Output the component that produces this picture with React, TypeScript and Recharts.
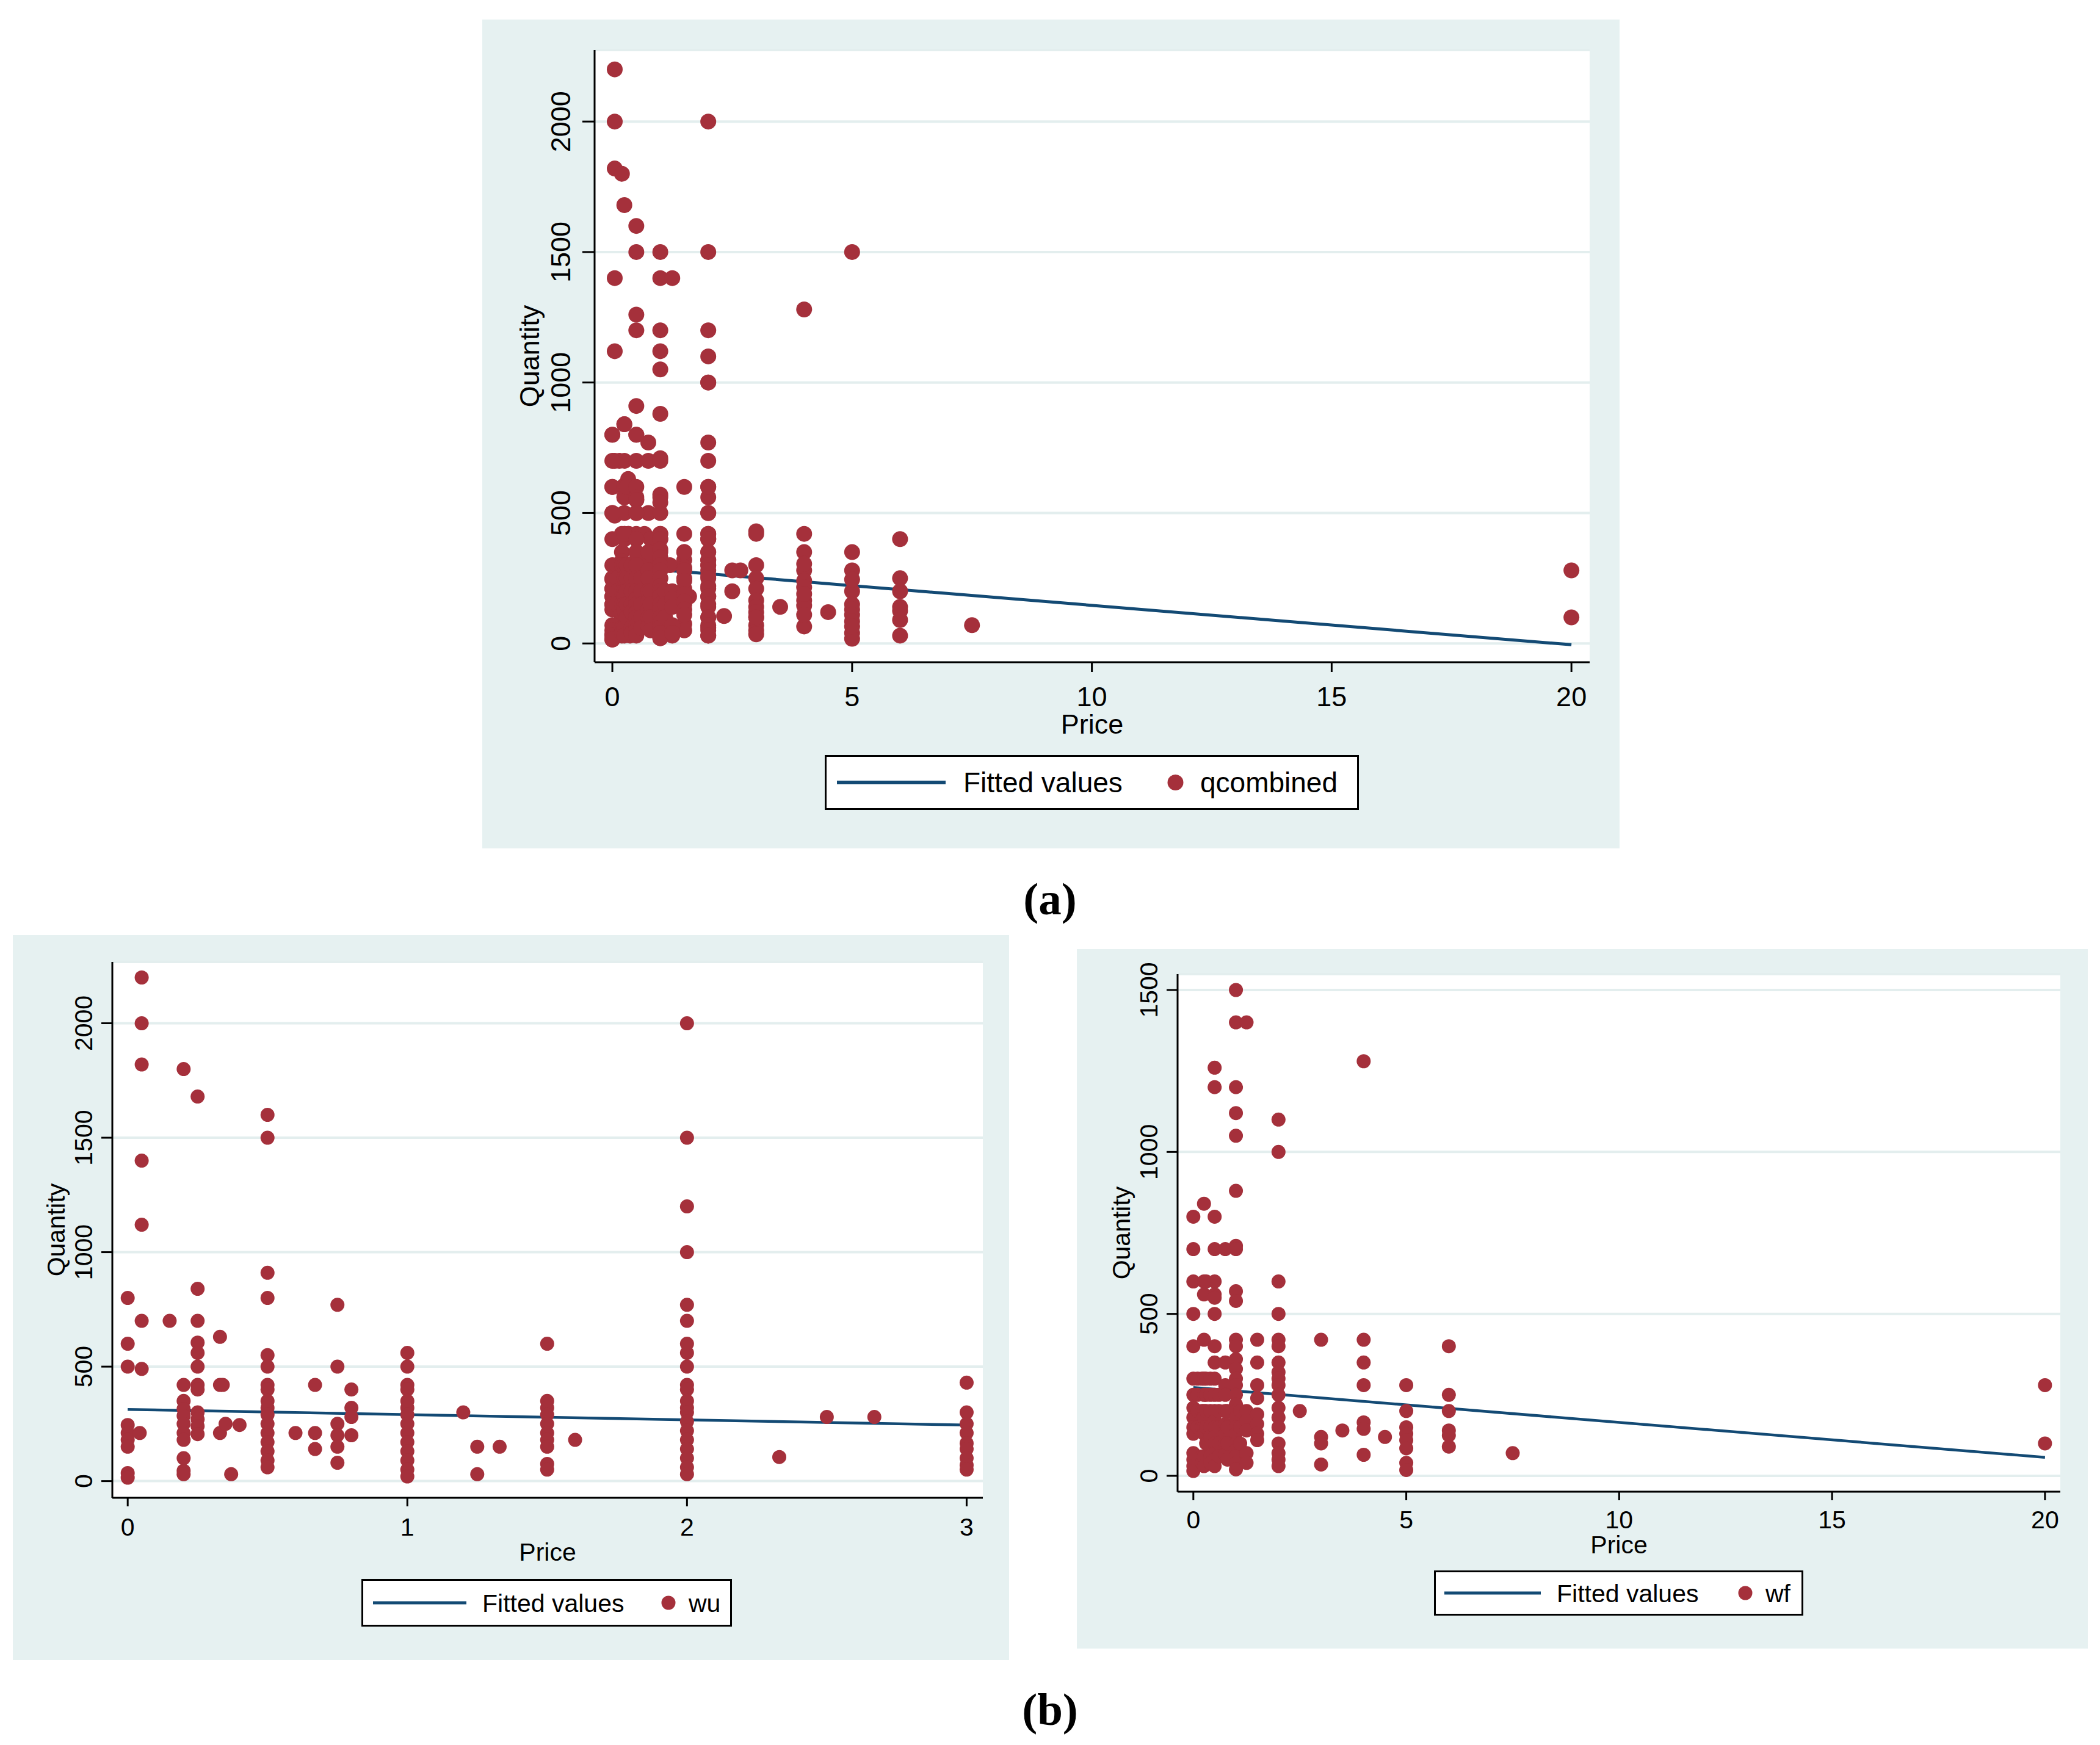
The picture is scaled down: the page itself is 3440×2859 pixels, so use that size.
import React from 'react';
import { ComposedChart, Scatter, Line, XAxis, YAxis, CartesianGrid } from 'recharts';

// ---------- data (price -> quantities) ----------
const wuByPrice: [number, number[]][] = [
  [0, [800, 600, 500, 245, 210, 180, 150, 35, 15]],
  [0.043, [210]],
  [0.05, [2200, 2000, 1820, 1400, 1120, 700, 490]],
  [0.15, [700]],
  [0.2, [1800, 420, 350, 315, 285, 250, 210, 180, 100, 45, 30]],
  [0.25, [1680, 840, 700, 605, 560, 500, 420, 400, 300, 270, 240, 205]],
  [0.33, [630, 420, 210]],
  [0.34, [420]],
  [0.35, [250]],
  [0.37, [30]],
  [0.4, [245]],
  [0.5, [1600, 1500, 910, 800, 550, 500, 420, 400, 350, 320, 290, 250, 210, 170, 130, 90, 60]],
  [0.6, [210]],
  [0.67, [420, 210, 140]],
  [0.75, [770, 500, 250, 200, 150, 80]],
  [0.8, [400, 320, 280, 200]],
  [1, [560, 500, 420, 400, 350, 320, 290, 250, 210, 170, 130, 90, 50, 20]],
  [1.2, [300]],
  [1.25, [150, 30]],
  [1.33, [150]],
  [1.5, [600, 350, 320, 290, 250, 210, 180, 150, 75, 50]],
  [1.6, [180]],
  [2, [2000, 1500, 1200, 1000, 770, 700, 600, 560, 500, 420, 400, 350, 320, 300, 260, 220, 180, 140, 100, 60, 30]],
  [2.33, [105]],
  [2.5, [280]],
  [2.67, [280]],
  [3, [430, 300, 250, 210, 165, 140, 100, 70, 50]],
];

const wfByPrice: [number, number[]][] = [
  [0, [800, 700, 600, 500, 400, 300, 250, 210, 180, 150, 130, 70, 50, 30, 15]],
  [0.1, [300, 250, 200, 150]],
  [0.2, [300, 200, 150, 60, 40]],
  [0.25, [840, 600, 560, 420, 300, 250, 200, 180, 150, 130, 60, 30]],
  [0.3, [600, 300, 250, 200, 150, 100]],
  [0.4, [300, 250, 200, 150, 120, 60, 40]],
  [0.5, [1260, 1200, 800, 700, 600, 560, 550, 500, 400, 350, 300, 250, 200, 170, 150, 120, 100, 70, 50, 30]],
  [0.6, [250, 200, 150, 100, 60]],
  [0.75, [700, 350, 280, 250, 200, 160, 130, 100, 65]],
  [0.8, [200, 150, 100, 50]],
  [1, [1500, 1400, 1200, 1120, 1050, 880, 710, 700, 570, 540, 420, 400, 360, 330, 300, 280, 250, 220, 200, 180, 150, 130, 100, 80, 60, 40, 20]],
  [1.1, [200, 150, 100]],
  [1.25, [1400, 200, 170, 140, 70, 40]],
  [1.5, [420, 350, 280, 240, 190, 160, 130, 110]],
  [2, [1100, 1000, 600, 500, 420, 400, 350, 320, 300, 280, 250, 210, 180, 150, 100, 70, 50, 30]],
  [2.5, [200]],
  [3, [420, 120, 100, 35]],
  [3.5, [140]],
  [4, [1280, 420, 350, 280, 165, 145, 65]],
  [4.5, [120]],
  [5, [280, 200, 150, 130, 110, 85, 40, 18]],
  [6, [400, 250, 200, 140, 125, 90]],
  [7.5, [70]],
  [20, [280, 100]],
];

// points present only in the combined series
const otherByPrice: [number, number[]][] = [
  [4, [305, 240, 215, 190, 110]],
  [5, [1500, 350, 245, 65]],
  [6, [30]],
];

const fitCombined = [{ x: 0, y: 297 }, { x: 20, y: -5 }];
const fitWu = [{ x: 0, y: 313 }, { x: 3, y: 245 }];
const fitWf = [{ x: 0, y: 273 }, { x: 20, y: 57 }];

const priceTicks20 = [0, 5, 10, 15, 20];
const priceTicks3 = [0, 1, 2, 3];
const qtyTicks2000 = [0, 500, 1000, 1500, 2000];
const qtyTicks1500 = [0, 500, 1000, 1500];

const toPoints = (cols: [number, number[]][]) =>
  cols.flatMap(([x, ys]) => ys.map((y) => ({ x, y })));

const wuPoints = toPoints(wuByPrice);
const wfPoints = toPoints(wfByPrice);
const combinedPoints = [...wuPoints, ...wfPoints, ...toPoints(otherByPrice)];

// ---------- styles ----------
const BG = '#e6f1f1';
const GRID = '#e3eeee';
const MAROON = '#a5303b';
const NAVY = '#134a74';
const SANS = '"Liberation Sans", Arial, sans-serif';
const SERIF = '"Liberation Serif", "Times New Roman", serif';

type Cfg = {
  left: number; top: number; width: number; height: number;
  mt: number; mr: number; yw: number; xh: number;
  xDomain: [number, number]; yDomain: [number, number];
  xTicks: number[]; yTicks: number[];
  points: { x: number; y: number }[]; fit: { x: number; y: number }[];
  r: number; fs: number; tickSize: number; xTickMargin: number; yTickMargin: number;
  qtyOff: number; priceOff: number; lineW: number;
};

function Panel({ c }: { c: Cfg }) {
  const yTick = (p: any) => {
    const { x, y, payload } = p;
    return (
      <text x={x} y={y} transform={`rotate(-90 ${x} ${y})`} textAnchor="middle"
        fontSize={c.fs} fontFamily={SANS} fill="#000">{payload.value}</text>
    );
  };
  const xLabel = (p: any) => {
    const vb = p.viewBox || {};
    const cx = (vb.x ?? c.yw) + (vb.width ?? 0) / 2;
    const y = (vb.y ?? 0) + c.priceOff;
    return <text x={cx} y={y} textAnchor="middle" fontSize={c.fs} fontFamily={SANS} fill="#000">Price</text>;
  };
  const yLabel = (p: any) => {
    const vb = p.viewBox || {};
    const ax = (vb.x ?? 0) + (vb.width ?? c.yw);
    const x = ax - c.qtyOff;
    const cy = (vb.y ?? c.mt) + (vb.height ?? 0) / 2;
    return <text x={x} y={cy} transform={`rotate(-90 ${x} ${cy})`} textAnchor="middle" fontSize={c.fs} fontFamily={SANS} fill="#000">Quantity</text>;
  };
  return (
    <div style={{ position: 'absolute', left: c.left, top: c.top, width: c.width, height: c.height, background: BG }}>
      <ComposedChart width={c.width} height={c.height} margin={{ top: c.mt, right: c.mr, bottom: 0, left: 0 }}>
        <CartesianGrid vertical={false} stroke={GRID} strokeWidth={4} fill="#ffffff" fillOpacity={1} />
        <XAxis type="number" dataKey="x" domain={c.xDomain} ticks={c.xTicks} interval={0} allowDataOverflow
          height={c.xh} tickSize={c.tickSize} tickMargin={c.xTickMargin}
          tick={{ fontSize: c.fs, fill: '#000', fontFamily: SANS }}
          axisLine={{ stroke: '#000', strokeWidth: 3 }} tickLine={{ stroke: '#000', strokeWidth: 3 }}
          label={xLabel} />
        <YAxis type="number" dataKey="y" domain={c.yDomain} ticks={c.yTicks} interval={0} allowDataOverflow
          width={c.yw} tickSize={c.tickSize + 4} tickMargin={c.yTickMargin}
          tick={yTick}
          axisLine={{ stroke: '#000', strokeWidth: 3 }} tickLine={{ stroke: '#000', strokeWidth: 3 }}
          label={yLabel} />
        <Line data={c.fit} dataKey="y" type="linear" stroke={NAVY} strokeWidth={c.lineW}
          dot={false} activeDot={false} isAnimationActive={false} />
        <Scatter data={c.points} isAnimationActive={false}
          shape={(p: any) => <circle cx={p.cx} cy={p.cy} r={c.r} fill={MAROON} />} />
      </ComposedChart>
    </div>
  );
}

type Lg = { left: number; top: number; width: number; height: number; lx1: number; lx2: number; tx: number; cx: number; t2x: number; fs: number; r: number; lw: number; name: string };

function LegendBox({ l }: { l: Lg }) {
  const cy = l.height / 2;
  const base = cy + l.fs * 0.358;
  return (
    <svg style={{ position: 'absolute', left: l.left, top: l.top }} width={l.width} height={l.height}>
      <rect x={1.5} y={1.5} width={l.width - 3} height={l.height - 3} fill="#fff" stroke="#000" strokeWidth={3} />
      <line x1={l.lx1} x2={l.lx2} y1={cy} y2={cy} stroke={NAVY} strokeWidth={l.lw} />
      <text x={l.tx} y={base} fontSize={l.fs} fontFamily={SANS} fill="#000">Fitted values</text>
      <circle cx={l.cx} cy={cy} r={l.r} fill={MAROON} />
      <text x={l.t2x} y={base} fontSize={l.fs} fontFamily={SANS} fill="#000">{l.name}</text>
    </svg>
  );
}

const topCfg: Cfg = {
  left: 790, top: 32, width: 1863, height: 1358, mt: 50, mr: 49, yw: 184, xh: 305,
  xDomain: [-0.37, 20.38], yDomain: [-72, 2274], xTicks: priceTicks20, yTicks: qtyTicks2000,
  points: combinedPoints, fit: fitCombined, r: 13, fs: 45, tickSize: 16, xTickMargin: 24, yTickMargin: 20,
  qtyOff: 91, priceOff: 117, lineW: 5,
};
const wuCfg: Cfg = {
  left: 21, top: 1532, width: 1632, height: 1188, mt: 44, mr: 43, yw: 163, xh: 266,
  xDomain: [-0.055, 3.058], yDomain: [-73, 2268], xTicks: priceTicks3, yTicks: qtyTicks2000,
  points: wuPoints, fit: fitWu, r: 11.5, fs: 41, tickSize: 14, xTickMargin: 19, yTickMargin: 15,
  qtyOff: 78, priceOff: 103, lineW: 4.5,
};
const wfCfg: Cfg = {
  left: 1764, top: 1555, width: 1656, height: 1146, mt: 41, mr: 45, yw: 165, xh: 257,
  xDomain: [-0.37, 20.36], yDomain: [-49, 1549], xTicks: priceTicks20, yTicks: qtyTicks1500,
  points: wfPoints, fit: fitWf, r: 11.5, fs: 41, tickSize: 14, xTickMargin: 17, yTickMargin: 15,
  qtyOff: 78, priceOff: 101, lineW: 4.5,
};

const topLegend: Lg = { left: 1351, top: 1237, width: 875, height: 90, lx1: 20, lx2: 198, tx: 227, cx: 574.5, t2x: 615, fs: 46, r: 13, lw: 6, name: 'qcombined' };
const wuLegend: Lg = { left: 592, top: 2587, width: 607, height: 78, lx1: 19, lx2: 172, tx: 198, cx: 503, t2x: 536, fs: 41, r: 11.5, lw: 5, name: 'wu' };
const wfLegend: Lg = { left: 2349, top: 2573, width: 605, height: 74, lx1: 17, lx2: 175, tx: 201, cx: 510, t2x: 543, fs: 41, r: 11.5, lw: 5, name: 'wf' };

export default function App() {
  return (
    <div style={{ position: 'absolute', left: 0, top: 0, width: 3440, height: 2859, background: '#fff', overflow: 'hidden' }}>
      <Panel c={topCfg} />
      <Panel c={wuCfg} />
      <Panel c={wfCfg} />
      <LegendBox l={topLegend} />
      <LegendBox l={wuLegend} />
      <LegendBox l={wfLegend} />
      <svg style={{ position: 'absolute', left: 0, top: 0, pointerEvents: 'none' }} width={3440} height={2859}>
        <text x={1720} y={1498} textAnchor="middle" fontSize={75} fontWeight="bold" fontFamily={SERIF} fill="#000">(a)</text>
        <text x={1720} y={2826} textAnchor="middle" fontSize={75} fontWeight="bold" fontFamily={SERIF} fill="#000">(b)</text>
      </svg>
    </div>
  );
}
